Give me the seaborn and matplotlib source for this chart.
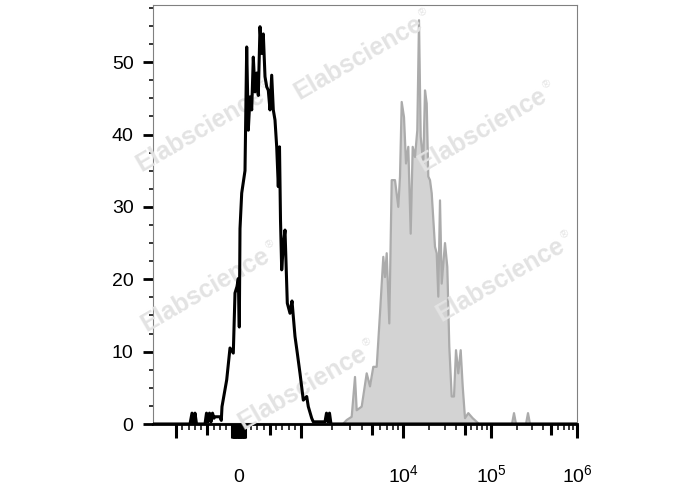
import numpy as np
import pandas as pd
import seaborn as sns
import matplotlib.pyplot as plt
from matplotlib.ticker import FixedLocator

# histogram channels (0 = left edge of plot, 424 = right edge) and event counts
black_ch = [0, 37, 39, 40.5, 42, 43.5, 52, 53.5, 55, 56.5, 58, 59.5, 61, 62, 67, 68.3, 69,
            73.7, 77, 80.3, 82, 84, 85.3, 86.3, 87, 88.7, 92, 93.7, 95.3, 97, 98.7, 100.3,
            102, 103.7, 105.3, 107, 108.7, 110.3, 112, 113.7, 115.3, 117, 118.7, 120.3, 122,
            123.7, 125.3, 126.5, 127.5, 128.7, 130.5, 132, 134.3, 137, 139, 142, 144.3, 147,
            148.7, 150.3, 153.7, 155.3, 158.7, 160.3, 172, 173.5, 175, 176.5, 178, 424]
black_n = [0, 0, 1.5, 0, 1.5, 0, 0, 1.5, 0.3, 1.5, 0.3, 1.5, 0.8, 1.0, 1.0, 0.5, 2.4,
           6.1, 10.5, 9.8, 18.1, 19, 20.1, 13.4, 27, 31.9, 35, 52.1, 40.6, 45.2, 43.4, 50.7,
           45.9, 48.5, 45.4, 54.9, 51.2, 53.9, 48, 46.6, 46.1, 43.4, 48.2, 43.4, 42,
           38.3, 32.8, 38.3, 28.2, 21.3, 25, 26.8, 16.7, 15.3, 17, 12.1, 9.8, 7.0,
           5.1, 3.3, 3.8, 2.4, 0.8, 0.3, 0.3, 1.5, 0.3, 1.5, 0, 0]

gray_ch = [0, 190, 193.7, 198.7, 202, 203.7, 208.7, 213.7, 217, 220.3, 223.7, 227, 230.3,
           232, 233.7, 236.3, 238.7, 242, 245.3, 247, 248.7, 251, 253, 255.3, 257.7, 259.7,
           262, 264.3, 266, 267.7, 270.3, 272, 273.7, 275.3, 277, 278.7, 282, 283.7, 285.3,
           287, 288.7, 292, 294.3, 296.3, 298.7, 301, 303, 305.3, 307.7, 309.7, 312, 315.3,
           319.7, 323.7, 326, 359, 361, 363, 373, 375, 377, 424]
gray_n = [0, 0, 0.55, 1.0, 6.5, 1.9, 2.4, 7.0, 5.2, 7.9, 7.9, 15.3, 23.1,
          20.3, 23.6, 13.9, 33.7, 33.7, 30.0, 34.2, 44.5, 42.4, 36.0, 38.3, 26.3, 38.3,
          36.9, 40.6, 55.8, 39.7, 36.0, 46.1, 44.3, 34.2, 33.7, 31.9, 24.5, 23.6, 17.6,
          30.9, 19.4, 25.0, 21.7, 10.7, 3.8, 3.8, 10.2, 7.0, 10.2, 5.2, 0.8, 1.5,
          0.8, 0.3, 0, 0, 1.5, 0, 0, 1.5, 0, 0]

# axis ticks (fluorescence values)
x_label_vals = [0, 1e4, 1e5, 1e6]
x_label_text = ['0', r'$\mathregular{10^4}$', r'$\mathregular{10^5}$', r'$\mathregular{10^6}$']
x_major_vals = [-1000] + list(range(-100, 101, 10)) + [1000, 1e4, 1e5, 1e6]
x_mid_vals = [-500, 500, 5e3, 5e4, 5e5]
x_minor_vals = ([s * k * 100 for s in (-1, 1) for k in (2, 3, 4, 6, 7, 8, 9)] +
                [k * 10 ** n for n in (3, 4, 5) for k in (2, 3, 4, 6, 7, 8, 9)])
y_major = [0, 10, 20, 30, 40, 50]
y_minor = [v for v in np.arange(2.5, 58, 2.5) if v % 10 != 0]


def chan(v):
    # biexponential display: linear around zero, log decades above 10^3
    v = np.asarray(v, float)
    lin = 85.5 + v * 0.0625
    lg = np.interp(np.log10(np.maximum(np.abs(v), 1)), [3, 4, 5, 6], [148, 250, 338, 424])
    return np.where(np.abs(v) <= 1000, lin, np.where(v > 0, lg, 171 - lg))


sns.set_style('ticks')
plt.rcParams['font.family'] = ['Liberation Sans', 'DejaVu Sans']
plt.rcParams['mathtext.fontset'] = 'custom'
plt.rcParams['mathtext.rm'] = 'Liberation Sans'

fig, ax = plt.subplots(figsize=(6.88, 4.90), dpi=100)
fig.subplots_adjust(left=153 / 688, right=577 / 688, bottom=1 - 424 / 490, top=1 - 5 / 490)

gray = pd.DataFrame({'ch': gray_ch, 'n': gray_n})
black = pd.DataFrame({'ch': black_ch, 'n': black_n})

ax.fill_between(gray['ch'], gray['n'], color='#d3d3d3', lw=0, zorder=1)
sns.lineplot(data=gray, x='ch', y='n', color='#ababab', lw=1.6, estimator=None, sort=False,
             ax=ax, zorder=2)

# watermark
marks = [(358, 58), (200, 130), (482, 130), (205, 290), (500, 280), (302, 388)]
for mx, my in marks:
    ax.text(mx / 688, 1 - my / 490, 'Elabscience', transform=fig.transFigure,
            fontsize=18, fontweight='bold', color='#e3e3e3', rotation=30,
            ha='center', va='center', rotation_mode='anchor', zorder=3)
    ax.annotate('\u00ae', xy=(mx / 688, 1 - my / 490), xycoords='figure fraction',
                xytext=(65, 46), textcoords='offset pixels', fontsize=8,
                color='#e3e3e3', rotation=30, ha='center', va='center', zorder=3)

sns.lineplot(data=black, x='ch', y='n', color='black', lw=2.2, estimator=None, sort=False,
             ax=ax, zorder=4)

ax.set_xlim(0, 424)
ax.set_ylim(0, 57.9)
ax.set_xlabel('')
ax.set_ylabel('')

ax.xaxis.set_major_locator(FixedLocator(chan(x_major_vals)))
ax.xaxis.set_minor_locator(FixedLocator(chan(x_minor_vals)))
lab_pos = list(chan(x_label_vals))
ax.set_xticklabels([x_label_text[lab_pos.index(p)] if p in lab_pos else ''
                    for p in chan(x_major_vals)])
ax.tick_params(axis='x', which='major', length=10, width=2.2, pad=31.5, labelsize=14,
               color='black', labelcolor='black')
ax.tick_params(axis='x', which='minor', length=4.3, width=1.1, color='black')

sec = ax.secondary_xaxis('bottom')
sec.set_xticks(chan(x_mid_vals))
sec.tick_params(length=8, width=2.2, labelbottom=False, color='black')
sec.spines['bottom'].set_visible(False)

ax.set_yticks(y_major)
ax.yaxis.set_minor_locator(FixedLocator(y_minor))
ax.tick_params(axis='y', which='major', length=7, width=2, pad=7, labelsize=14,
               color='black', labelcolor='black')
ax.tick_params(axis='y', which='minor', length=3, width=1.1, color='black')

for side in ['top', 'right', 'left']:
    ax.spines[side].set_color('#808080')
    ax.spines[side].set_linewidth(0.8)
ax.spines['bottom'].set_color('black')
ax.spines['bottom'].set_linewidth(2)

for t in ax.xaxis.get_major_ticks():
    t.label1.set_verticalalignment('baseline')

fig.savefig('out.png', dpi=100)
